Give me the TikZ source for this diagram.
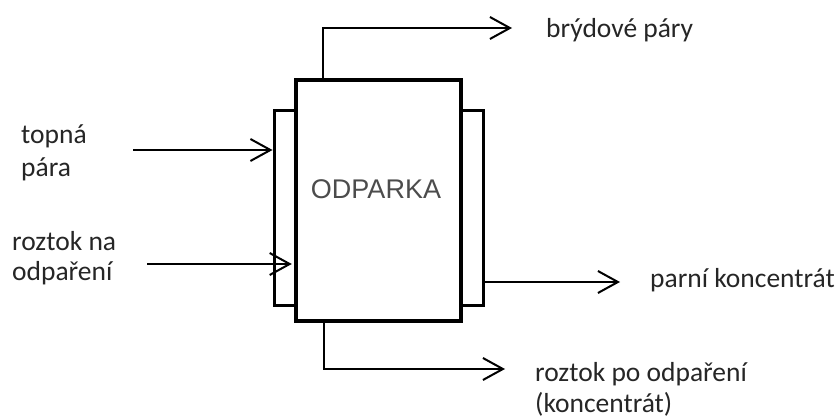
\documentclass[tikz,border=0pt]{standalone}
\usepackage{fontspec}
\setmainfont{Carlito}
\newfontfamily\boxfont{Liberation Sans}
\usetikzlibrary{arrows.meta}
\tikzset{
  mainbox/.style={draw=black, line width=4.5pt, fill=white, inner sep=0pt},
  jacket/.style={draw=black, line width=3pt, fill=white, inner sep=0pt, minimum width=22pt, minimum height=194pt},
  flow/.style={draw=black, line width=2pt, -{Straight Barb[length=20pt, width=22pt, line width=2pt]}},
  lbl/.style={anchor=base west, inner sep=0pt, text=black!85, font=\fontsize{27.5}{32}\selectfont},
  boxlbl/.style={inner sep=0pt, text=black!70, font=\boxfont\fontsize{27}{30}\selectfont}
}
\begin{document}
\begin{tikzpicture}[x=1pt, y=-1pt]
\useasboundingbox[fill=white] (0,0) rectangle (839,420);
% jackets
\node[jacket] (lj) at (285,208) {};
\node[jacket] (rj) at (472,208) {};
% main box
\node[mainbox, minimum width=165pt, minimum height=241pt] (odp) at (378.5,200.5) {};
\node[boxlbl] (odptxt) at (376,189) {ODPARKA};
% coordinates
\coordinate (topstub) at (323,80);
\coordinate (brtip) at (512,28);
\coordinate (botstub) at (324,321);
\coordinate (kotip) at (505,369);
\coordinate (tpstart) at (133,150);
\coordinate (rzstart) at (147,264);
\coordinate (pktip) at (620,282);
% connectors
\draw[flow] (topstub) |- (brtip);
\draw[flow] (botstub) |- (kotip);
\draw[flow] (tpstart) -- (lj.west |- tpstart);
\draw[flow] (rzstart) -- ([xshift=-2pt]odp.west |- rzstart);
\draw[flow] (rj.east |- pktip) -- (pktip);
% labels
\node[lbl] (br) at (546,38) {brýdové páry};
\node[lbl] (tp1) at (21,143) {topná};
\node[lbl] (tp2) at (21,176) {pára};
\node[lbl] (rz1) at (12,250) {roztok na};
\node[lbl] (rz2) at (12,280) {odpaření};
\node[lbl] (pk) at (650,287) {parní koncentrát};
\node[lbl] (ko1) at (535,381) {roztok po odpaření};
\node[lbl] (ko2) at (535,412) {(koncentrát)};
\end{tikzpicture}
\end{document}
